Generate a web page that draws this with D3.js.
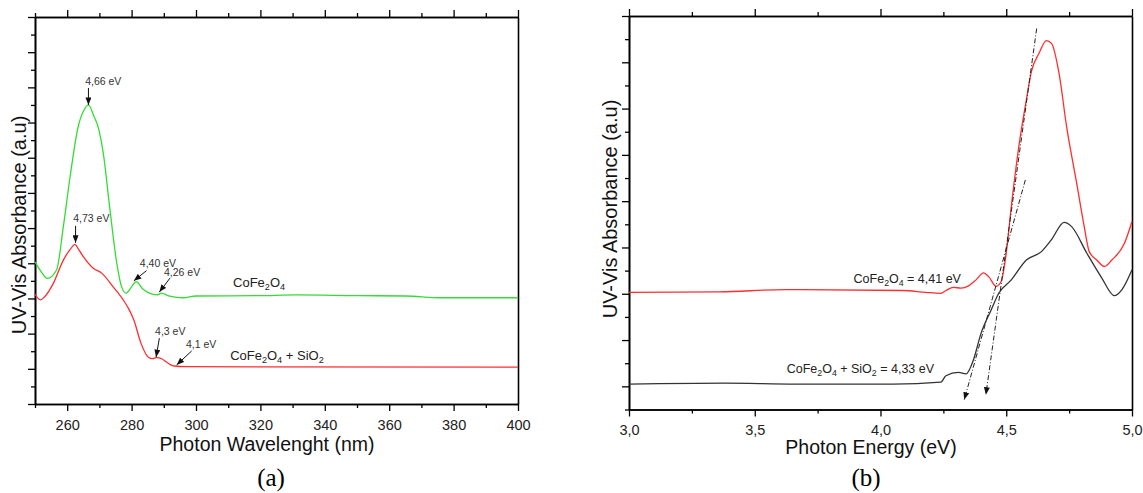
<!DOCTYPE html>
<html>
<head>
<meta charset="utf-8">
<script src="https://cdn.jsdelivr.net/npm/d3@7"></script>
<style>
  body { margin: 0; background: #fff; }
  svg text { font-family: "Liberation Sans", Arial, sans-serif; }
  svg text.serif { font-family: "Liberation Serif", "Times New Roman", serif; }
</style>
</head>
<body>
<svg id="uvvis"></svg>
<script>
// ---- panel (a): absorbance vs wavelength ----
let nmPure = [250, 252, 253.8, 256.7, 258.8, 260.9, 263.4, 265.5, 266.6, 268.2, 269.7, 271.2, 273.3, 275.4,
  276.9, 278.3, 280, 281.4, 283.6, 285.5, 287.8, 289.3, 291.5, 294, 296, 300, 320, 331, 350, 365, 376, 400];
let absPure = [4.04, 3.75, 3.57, 3.81, 5.04, 6.46, 7.88, 8.4, 8.5, 8.2, 7.84, 7.13, 5.51, 4.0,
  3.33, 3.15, 3.33, 3.48, 3.26, 3.15, 3.1, 3.15, 3.07, 3.03, 3.02, 3.07, 3.08, 3.1, 3.08, 3.07, 3.02, 3.02];

let nmSilica = [250, 251.7, 253, 255.7, 258.8, 261, 262.4, 263.5, 265, 268.1, 270.7, 274.3, 277.4, 279,
  280.7, 282.9, 285.2, 286.5, 287.7, 289.5, 290.7, 292, 293.2, 296.8, 400];
let absSilica = [3.12, 2.96, 3.05, 3.43, 4.09, 4.4, 4.54, 4.4, 4.19, 3.86, 3.72, 3.33, 2.96, 2.72,
  2.39, 1.73, 1.33, 1.29, 1.32, 1.28, 1.2, 1.12, 1.08, 1.06, 1.05];

let nmTicks = [260, 280, 300, 320, 340, 360, 380, 400];
let nmMinor = [250, 270, 290, 310, 330, 350, 370, 390];

let peakLabels = ["4,66 eV", "4,73 eV", "4,40 eV", "4,26 eV", "4,3 eV", "4,1 eV"];
let peakNm = [266.6, 262.6, 280.7, 288.6, 287.6, 294.0];
let peakAbs = [8.5, 4.58, 3.5, 3.18, 1.33, 1.11];

let namesA = ["CoFe2O4", "CoFe2O4 + SiO2"];
let namesANm = [311.5, 310.6];
let namesAAbs = [3.33, 1.25];

// ---- panel (b): absorbance vs photon energy ----
let evPure = [3.0, 3.36, 3.62, 4.09, 4.18, 4.24, 4.26, 4.29, 4.32, 4.35, 4.38, 4.41, 4.43, 4.46, 4.48, 4.5,
  4.52, 4.55, 4.58, 4.6, 4.63, 4.66, 4.68, 4.71, 4.74, 4.78, 4.81, 4.83, 4.86, 4.89, 4.92, 4.97, 5.0];
let absPureB = [2.03, 2.04, 2.09, 2.07, 2.03, 2.01, 2.07, 2.14, 2.12, 2.17, 2.3, 2.45, 2.37, 2.16, 2.27, 2.88,
  3.88, 5.18, 6.19, 6.8, 7.19, 7.47, 7.41, 6.76, 5.61, 4.39, 3.45, 2.91, 2.73, 2.59, 2.73, 3.09, 3.56];

let evSilica = [3.0, 3.38, 3.66, 4.05, 4.24, 4.26, 4.31, 4.34, 4.37, 4.4, 4.44, 4.47, 4.52, 4.58, 4.64,
  4.68, 4.73, 4.76, 4.82, 4.88, 4.93, 4.96, 5.0];
let absSilicaB = [0.05, 0.07, 0.05, 0.05, 0.09, 0.23, 0.3, 0.27, 0.58, 1.15, 1.65, 2.01, 2.3, 2.73, 2.91,
  3.17, 3.54, 3.45, 2.88, 2.34, 1.96, 2.09, 2.52];

let evTicks = [3.0, 3.5, 4.0, 4.5, 5.0];
let evMinor = [3.25, 3.75, 4.25, 4.75];

// tangent lines: upper end -> arrow end
let tangentEvTop = [4.621, 4.576];
let tangentAbsTop = [7.73, 4.46];
let tangentEvEnd = [4.419, 4.333];
let tangentAbsEnd = [-0.18, -0.29];

let namesB = ["CoFe2O4 = 4,41 eV", "CoFe2O4 + SiO2 = 4,33 eV"];
let namesBEv = [4.32, 4.213];
let namesBAbs = [2.24, 0.285];

let config = {
  'svg': { width: 1143, height: 493 },
  'a': { left: 35, right: 518, top: 17, bottom: 404, pad: 9 },
  'b': { left: 629, right: 1132, top: 16, bottom: 409.5, pad: 8 }
};

config.colors = { green: '#33dd33', red: '#ff2e2e', black: '#333333' };
config.tick = { major: 7, minor: 4 };
config.peakArrow = [[0, -17], [0, -17], [12.7, -10.3], [10.7, -14], [3.3, -19], [15, -14]];
config.peakText = [[-3.3, -20], [-2.3, -21], [6, -14.3], [4.7, -16.3], [-1, -22.3], [9.3, -17.3]];

let svg = d3.select('svg#uvvis')
  .attr('width', config.svg.width)
  .attr('height', config.svg.height);

svg.append('rect')
  .attr('width', config.svg.width)
  .attr('height', config.svg.height)
  .attr('fill', '#fff');

let defs = svg.append('defs');
defs.append('marker')
  .attr('id', 'head')
  .attr('viewBox', '0 0 10 8')
  .attr('refX', 10)
  .attr('refY', 4)
  .attr('markerUnits', 'userSpaceOnUse')
  .attr('markerWidth', 8)
  .attr('markerHeight', 6)
  .attr('orient', 'auto')
  .append('path')
  .attr('d', 'M0,0 L10,4 L0,8 Z')
  .attr('fill', '#111');

let scale = { a: {}, b: {} };

scale.a.x = d3.scaleLinear().domain([250, 400]).range([config.a.left, config.a.right]);
scale.a.y = d3.scaleLinear().domain([0, 11]).range([config.a.bottom, config.a.top]);
scale.b.x = d3.scaleLinear().domain([3, 5]).range([config.b.left, config.b.right]);
scale.b.y = d3.scaleLinear().domain([-0.5, 8]).range([config.b.bottom, config.b.top]);

let commaFmt = d => d3.format('.1f')(d).replace('.', ',');

drawFrame(scale.a, config.a, nmTicks, nmMinor, d3.range(0, 12), d3.range(0.5, 11, 1), d3.format('d'));
drawFrame(scale.b, config.b, evTicks, evMinor, d3.range(0, 9), d3.range(-0.5, 8, 1), commaFmt);

// curves
let lineA = d3.line().x(d => scale.a.x(d[0])).y(d => scale.a.y(d[1])).curve(d3.curveMonotoneX);
let lineB = d3.line().x(d => scale.b.x(d[0])).y(d => scale.b.y(d[1])).curve(d3.curveMonotoneX);

svg.append('path')
  .datum(d3.zip(nmPure, absPure))
  .attr('d', lineA)
  .attr('fill', 'none')
  .attr('stroke', config.colors.green)
  .attr('stroke-width', 1.3);

svg.append('path')
  .datum(d3.zip(nmSilica, absSilica))
  .attr('d', lineA)
  .attr('fill', 'none')
  .attr('stroke', config.colors.red)
  .attr('stroke-width', 1.3);

svg.append('path')
  .datum(d3.zip(evPure, absPureB))
  .attr('d', lineB)
  .attr('fill', 'none')
  .attr('stroke', config.colors.red)
  .attr('stroke-width', 1.3);

svg.append('path')
  .datum(d3.zip(evSilica, absSilicaB))
  .attr('d', lineB)
  .attr('fill', 'none')
  .attr('stroke', config.colors.black)
  .attr('stroke-width', 1.3);

// peak annotations in (a)
let peaks = svg.append('g').attr('id', 'peaks');
peakLabels.forEach(function(label, i) {
  let px = scale.a.x(peakNm[i]);
  let py = scale.a.y(peakAbs[i]);
  let arrow = config.peakArrow[i];
  let off = config.peakText[i];

  peaks.append('line')
    .attr('x1', px + arrow[0])
    .attr('y1', py + arrow[1])
    .attr('x2', px)
    .attr('y2', py)
    .attr('stroke', '#111')
    .attr('stroke-width', 1)
    .attr('marker-end', 'url(#head)');

  peaks.append('text')
    .attr('x', px + off[0])
    .attr('y', py + off[1])
    .attr('font-size', '10.5px')
    .attr('fill', '#333')
    .text(label);
});

namesA.forEach(function(name, i) {
  chemText(svg.append('text')
    .attr('x', scale.a.x(namesANm[i]))
    .attr('y', scale.a.y(namesAAbs[i]))
    .attr('font-size', '13px')
    .attr('fill', '#222'), name);
});

// tangents in (b)
tangentEvTop.forEach(function(ev, i) {
  svg.append('line')
    .attr('x1', scale.b.x(ev))
    .attr('y1', scale.b.y(tangentAbsTop[i]))
    .attr('x2', scale.b.x(tangentEvEnd[i]))
    .attr('y2', scale.b.y(tangentAbsEnd[i]))
    .attr('stroke', '#222')
    .attr('stroke-width', 1)
    .attr('stroke-dasharray', '5,2,1,2')
    .attr('marker-end', 'url(#head)');
});

namesB.forEach(function(name, i) {
  chemText(svg.append('text')
    .attr('x', scale.b.x(namesBEv[i]))
    .attr('y', scale.b.y(namesBAbs[i]))
    .attr('text-anchor', 'end')
    .attr('font-size', '12.5px')
    .attr('fill', '#222'), name);
});

drawTitles();

function drawFrame(s, box, majors, minors, yMajors, yMinors, fmt) {
  let g = svg.append('g').attr('class', 'frame');

  let bottom = d3.axisBottom(s.x).tickValues(majors).tickSize(config.tick.major)
    .tickSizeOuter(0).tickPadding(box.pad).tickFormat(fmt);
  let bottomMinor = d3.axisBottom(s.x).tickValues(minors).tickSize(config.tick.minor)
    .tickSizeOuter(0).tickFormat('');
  let top = d3.axisTop(s.x).tickValues(majors).tickSize(config.tick.major)
    .tickSizeOuter(0).tickFormat('');
  let topMinor = d3.axisTop(s.x).tickValues(minors).tickSize(config.tick.minor)
    .tickSizeOuter(0).tickFormat('');
  let left = d3.axisLeft(s.y).tickValues(yMajors).tickSize(config.tick.major)
    .tickSizeOuter(0).tickFormat('');
  let leftMinor = d3.axisLeft(s.y).tickValues(yMinors).tickSize(config.tick.minor)
    .tickSizeOuter(0).tickFormat('');
  let right = d3.axisRight(s.y).tickValues([]).tickSizeOuter(0);

  let gb = g.append('g').attr('transform', translate(0, box.bottom)).call(bottom);
  g.append('g').attr('transform', translate(0, box.bottom)).call(bottomMinor);
  g.append('g').attr('transform', translate(0, box.top)).call(top);
  g.append('g').attr('transform', translate(0, box.top)).call(topMinor);
  g.append('g').attr('transform', translate(box.left, 0)).call(left);
  g.append('g').attr('transform', translate(box.left, 0)).call(leftMinor);
  g.append('g').attr('transform', translate(box.right, 0)).call(right);

  g.selectAll('path.domain').attr('stroke', '#000').attr('stroke-width', 1.6);
  g.selectAll('.tick line').attr('stroke', '#000').attr('stroke-width', 1.3);
  gb.selectAll('.tick text')
    .attr('font-size', '14.5px')
    .attr('fill', '#222');
}

// digits right after a letter become subscripts (CoFe2O4 etc.)
function chemText(text, str) {
  let parts = str.split(/(?<=[A-Za-z])(\d)/);
  let shifted = false;
  parts.forEach(function(p, i) {
    if (p === '') return;
    let isSub = i % 2 === 1;
    let t = text.append('tspan').text(p);
    if (isSub) {
      t.attr('font-size', '0.7em').attr('dy', shifted ? 0 : 3);
      shifted = true;
    } else if (shifted) {
      t.attr('dy', -3);
      shifted = false;
    }
  });
}

function drawTitles() {
  svg.append('text')
    .text('Photon Wavelenght (nm)')
    .attr('x', 267)
    .attr('y', 451)
    .attr('text-anchor', 'middle')
    .attr('font-size', '19.5px')
    .attr('fill', '#111');

  svg.append('text')
    .text('Photon Energy (eV)')
    .attr('x', 871)
    .attr('y', 454)
    .attr('text-anchor', 'middle')
    .attr('font-size', '19.5px')
    .attr('fill', '#111');

  svg.append('text')
    .text('UV-Vis Absorbance (a.u)')
    .attr('transform', translate(26, 225) + ' rotate(-90)')
    .attr('text-anchor', 'middle')
    .attr('font-size', '20px')
    .attr('fill', '#111');

  svg.append('text')
    .text('UV-Vis Absorbance (a.u)')
    .attr('transform', translate(617, 209) + ' rotate(-90)')
    .attr('text-anchor', 'middle')
    .attr('font-size', '20px')
    .attr('fill', '#111');

  svg.append('text')
    .text('(a)')
    .attr('class', 'serif')
    .attr('x', 271)
    .attr('y', 486)
    .attr('text-anchor', 'middle')
    .attr('font-size', '25px')
    .attr('fill', '#000');

  svg.append('text')
    .text('(b)')
    .attr('class', 'serif')
    .attr('x', 866)
    .attr('y', 486)
    .attr('text-anchor', 'middle')
    .attr('font-size', '25px')
    .attr('fill', '#000');
}

function translate(x, y) {
  return 'translate(' + x + ',' + y + ')';
}
</script>
</body>
</html>
